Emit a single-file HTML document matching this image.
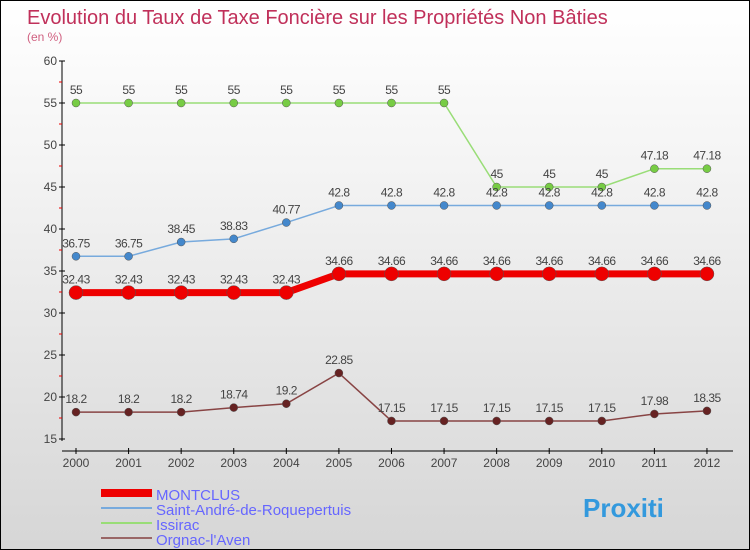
<!DOCTYPE html>
<html><head><meta charset="utf-8"><style>
body{margin:0;}
#wrap{width:750px;height:550px;position:relative;box-sizing:border-box;border:1px solid #000;background:linear-gradient(#fff 0%,#f4f4f4 30%,#d6d6d6 100%);overflow:hidden;font-family:"Liberation Sans",sans-serif;}
svg text{font-family:"Liberation Sans",sans-serif;}
</style></head><body>
<div id="wrap">
<svg id="c" width="750" height="550">
<text x="26" y="23" font-size="20" fill="#c0305a">Evolution du Taux de Taxe Foncière sur les Propriétés Non Bâties</text>
<text x="26" y="40" font-size="12" fill="#d06080">(en %)</text>
</svg>
</div>
<script>
const years=[2000,2001,2002,2003,2004,2005,2006,2007,2008,2009,2010,2011,2012];
const montclus=[32.43,32.43,32.43,32.43,32.43,34.66,34.66,34.66,34.66,34.66,34.66,34.66,34.66];
const saintAndre=[36.75,36.75,38.45,38.83,40.77,42.8,42.8,42.8,42.8,42.8,42.8,42.8,42.8];
const issirac=[55,55,55,55,55,55,55,55,45,45,45,47.18,47.18];
const orgnac=[18.2,18.2,18.2,18.74,19.2,22.85,17.15,17.15,17.15,17.15,17.15,17.98,18.35];
const yTicks=[15,20,25,30,35,40,45,50,55,60];
const seriesNames=["MONTCLUS","Saint-André-de-Roquepertuis","Issirac","Orgnac-l'Aven"];
const NS="http://www.w3.org/2000/svg";
const svg=document.getElementById('c');
const xs=i=>75+i*52.58;
const ys=v=>438-(v-15)*8.4;
function mk(t,a,p){const e=document.createElementNS(NS,t);for(const k in a)e.setAttribute(k,a[k]);(p||svg).appendChild(e);return e;}
// axes
let ax=mk('line',{x1:61,y1:60,x2:61,y2:440,stroke:'#000','stroke-width':1});


let xa=mk('line',{x1:61,y1:450,x2:732,y2:450,stroke:'#000','stroke-width':1});


yTicks.forEach(v=>{
  mk('line',{x1:58,y1:ys(v),x2:64,y2:ys(v),stroke:'#000'});
  if(v<60)mk('line',{x1:58,y1:ys(v+2.5),x2:61,y2:ys(v+2.5),stroke:'#e00'});
  const t=mk('text',{x:56,y:ys(v)+4,'text-anchor':'end','font-size':12,fill:'#444'});
  t.textContent=v;
  
  
});
years.forEach((y,i)=>{
  mk('line',{x1:xs(i),y1:447,x2:xs(i),y2:453,stroke:'#000'});
  const t=mk('text',{x:xs(i),y:466,'text-anchor':'middle','font-size':12,fill:'#444'});
  t.textContent=y;
  
  
});
function series(vals,color,w,r,name,dot){
  const g=mk('g',{});
  
  
  mk('polyline',{points:vals.map((v,i)=>xs(i)+','+ys(v)).join(' '),fill:'none',stroke:color,'stroke-width':w},g);
  vals.forEach((v,i)=>{
    const c=mk('circle',{cx:xs(i),cy:ys(v),r:r,fill:dot,stroke:'#555','stroke-width':0.5},g);
    
    
    const t=mk('text',{x:xs(i),y:ys(v)-9,'text-anchor':'middle','font-size':12,fill:'#444','letter-spacing':'-0.5'},g);
    t.textContent=v;
    
    
  });
}
series(issirac,'#99dd77',1.5,4,'series-issirac','#77cc44');
series(saintAndre,'#77aadd',1.5,4,'series-saint-andre','#4488cc');
series(orgnac,'#884444',1.5,4,'series-orgnac','#662222');
series(montclus,'#ee0000',7,7,'series-montclus','#ee0000');
// legend
const lc=['#ee0000','#77aadd','#99dd77','#996666'],lw=[8,2,2,2];
seriesNames.forEach((n,i)=>{
  const y=492+i*15;
  const l=mk('line',{x1:100,y1:y,x2:151,y2:y,stroke:lc[i],'stroke-width':lw[i]});
  
  
  const t=mk('text',{x:155,y:y+7,'font-size':15,fill:'#6666ff'});
  t.textContent=n;
  
  
});
const lg=mk('text',{x:582,y:516,'font-size':26,'font-weight':'bold',fill:'#3399dd'});
lg.textContent='Proxiti';


</script>
</body></html>
